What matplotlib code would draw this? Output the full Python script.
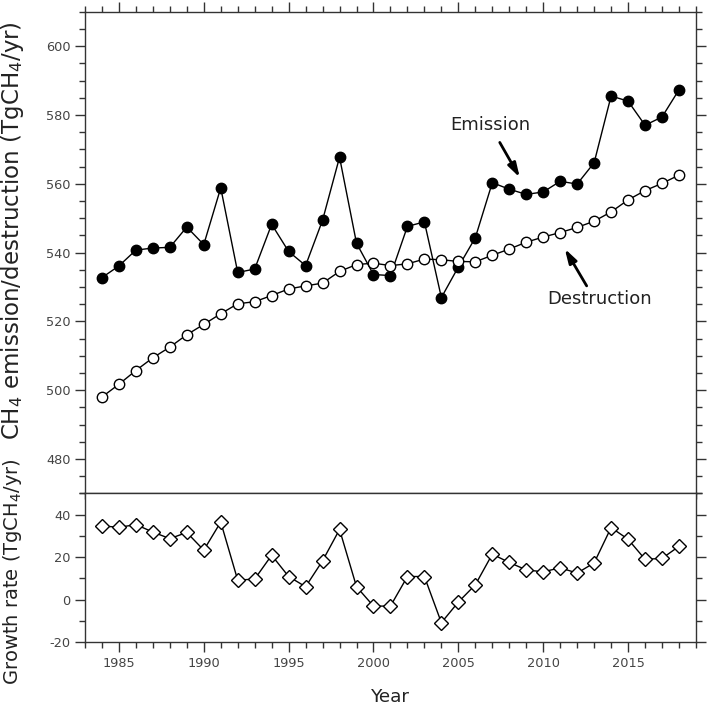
import numpy as np
import matplotlib
matplotlib.use('Agg')
import matplotlib.pyplot as plt
from matplotlib import rcParams

rcParams['font.family'] = ['DejaVu Sans']
rcParams['axes.unicode_minus'] = False
rcParams['axes.linewidth'] = 1.0
rcParams['axes.edgecolor'] = '#333333'

years = np.arange(1984, 2019)

emission = [532.7, 536.1, 540.7, 541.3, 541.5, 547.4, 542.3, 558.8, 534.2, 535.2,
            548.2, 540.3, 536.2, 549.4, 567.7, 542.7, 533.6, 533.3, 547.6, 548.9,
            526.9, 535.8, 544.3, 560.3, 558.4, 556.9, 557.6, 560.7, 559.9, 566.1,
            585.5, 584.0, 577.0, 579.4, 587.3]

destruction = [498.0, 501.7, 505.7, 509.4, 512.5, 516.1, 519.1, 522.2, 525.1, 525.7,
               527.5, 529.4, 530.3, 531.1, 534.5, 536.5, 536.9, 536.2, 536.7, 538.1,
               537.9, 537.4, 537.3, 539.2, 541.0, 543.0, 544.5, 545.8, 547.3, 549.1,
               551.8, 555.3, 558.0, 560.1, 562.5]

growth = [34.7, 34.0, 35.3, 31.8, 28.7, 31.6, 23.3, 36.5, 9.2, 9.7,
          20.9, 10.9, 6.1, 18.3, 33.0, 6.1, -3.0, -3.0, 10.9, 10.9,
          -10.8, -1.1, 7.0, 21.4, 17.5, 14.0, 13.1, 15.0, 12.5, 17.3,
          33.9, 28.4, 19.0, 19.4, 25.1]

fig = plt.figure(figsize=(7.08, 7.10), dpi=100)
ax1 = fig.add_axes([0.120, 0.3052, 0.863, 0.6783])
ax2 = fig.add_axes([0.120, 0.0954, 0.863, 0.2098])

lw = 1.0
ax1.plot(years, emission, '-o', color='k', lw=lw, ms=7.5,
         mfc='k', mec='k', mew=1.0, zorder=3)
ax1.plot(years, destruction, '-o', color='k', lw=lw, ms=7.5,
         mfc='white', mec='k', mew=1.0, zorder=3)
ax2.plot(years, growth, '-D', color='k', lw=lw, ms=7.5,
         mfc='white', mec='k', mew=1.0, zorder=3)

# axes limits / ticks
for ax in (ax1, ax2):
    ax.set_xlim(1983, 2019)
    ax.set_xticks(np.arange(1985, 2016, 5))
    ax.set_xticks(np.arange(1983, 2020, 1), minor=True)

ax1.set_ylim(470, 610)
ax1.set_yticks(np.arange(480, 601, 20))
ax1.set_yticks(np.arange(470, 611, 5), minor=True)

ax2.set_ylim(-20, 50)
ax2.set_yticks([-20, 0, 20, 40])
ax2.set_yticks(np.arange(-20, 51, 10), minor=True)

for ax in (ax1, ax2):
    ax.tick_params(which='minor', direction='out', length=4, width=1.0,
                   color='#333333')
    ax.tick_params(which='major', direction='out', length=7, width=1.0,
                   color='#333333', labelsize=9.3, labelcolor='#444444')

ax1.tick_params(which='both', top=True, bottom=True, left=True, right=True,
                labelbottom=False)
ax2.tick_params(which='both', top=False, bottom=True, left=True, right=True)

ax2.set_xlabel('Year', fontsize=13.2, labelpad=13, color='#222222')

fig.text(0.018, 1 - 231 / 710., r'CH$_4$ emission/destruction (TgCH$_4$/yr)',
         rotation=90, ha='center', va='center', fontsize=16.5, color='#222222')
fig.text(0.018, 1 - 572 / 710., r'Growth rate (TgCH$_4$/yr)',
         rotation=90, ha='center', va='center', fontsize=14, color='#222222')

# annotations
arrow = dict(arrowstyle='-|>,head_width=0.18,head_length=0.6', color='k',
             lw=2.0, mutation_scale=14, shrinkA=0, shrinkB=0)
ax1.text(2006.9, 577.0, 'Emission', ha='center', va='center', fontsize=13,
         color='#222222')
ax1.annotate('', xy=(2008.62, 561.8), xytext=(2007.44, 572.0), arrowprops=arrow)
ax1.text(2013.33, 526.5, 'Destruction', ha='center', va='center', fontsize=13,
         color='#222222')
ax1.annotate('', xy=(2011.27, 541.1), xytext=(2012.56, 530.3), arrowprops=arrow)

fig.savefig('out.png', dpi=100)
